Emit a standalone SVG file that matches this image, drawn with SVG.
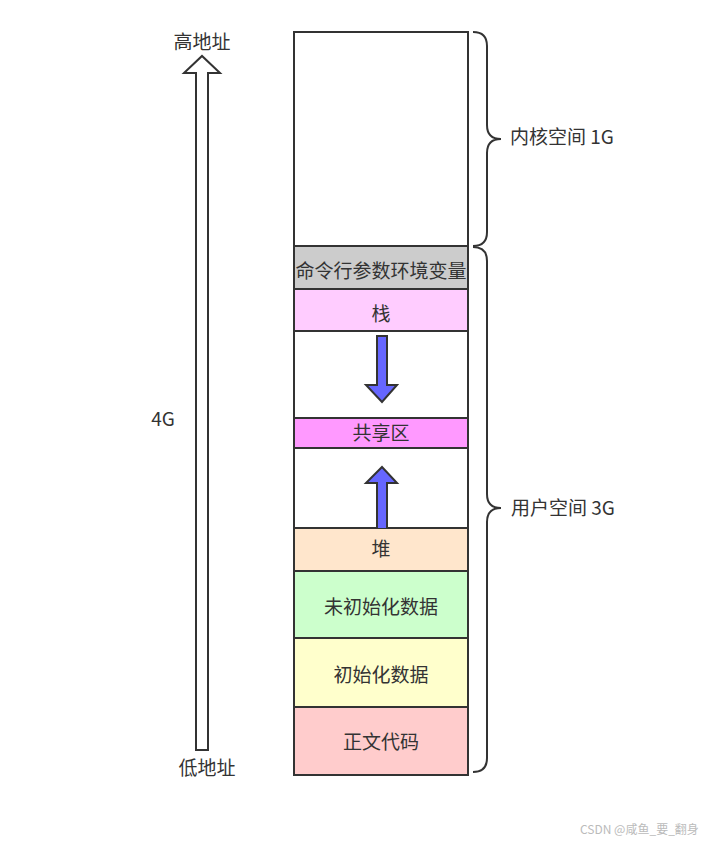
<svg xmlns="http://www.w3.org/2000/svg" width="717" height="842" viewBox="0 0 717 842">
<style>
.blk{stroke:#333;stroke-width:2}
.t{font-family:"Noto Sans CJK SC","Noto Sans",sans-serif;font-size:19px;fill:#333;text-anchor:middle}
.l{font-family:"Noto Sans CJK SC","Noto Sans",sans-serif;font-size:19px;fill:#333}
.br{fill:none;stroke:#333;stroke-width:2}
.arr{fill:#6666ff;stroke:#333;stroke-width:2;stroke-linejoin:miter}
</style>
<rect width="717" height="842" fill="#fff"/>
<g id="kernel"><rect class="blk" x="294" y="32" width="174" height="214" fill="#fff"/></g>
<g id="env"><rect class="blk" x="294" y="246" width="174" height="43" fill="#cccccc"/><text class="t" x="381" y="278">命令行参数环境变量</text></g>
<g id="stack"><rect class="blk" x="294" y="289" width="174" height="42" fill="#ffccff"/><text class="t" x="381" y="321">栈</text></g>
<g id="gap1"><rect class="blk" x="294" y="331" width="174" height="87" fill="#fff"/></g>
<g id="shared"><rect class="blk" x="294" y="418" width="174" height="30" fill="#ff99ff"/><text class="t" x="381" y="440">共享区</text></g>
<g id="gap2"><rect class="blk" x="294" y="448" width="174" height="80" fill="#fff"/></g>
<g id="heap"><rect class="blk" x="294" y="528" width="174" height="43" fill="#ffe6cc"/><text class="t" x="381" y="556">堆</text></g>
<g id="bss"><rect class="blk" x="294" y="571" width="174" height="67" fill="#ccffcc"/><text class="t" x="381" y="614">未初始化数据</text></g>
<g id="data"><rect class="blk" x="294" y="638" width="174" height="69" fill="#ffffcc"/><text class="t" x="381" y="682">初始化数据</text></g>
<g id="text"><rect class="blk" x="294" y="707" width="174" height="68" fill="#ffcccc"/><text class="t" x="381" y="749">正文代码</text></g>
<g id="connectors">
<path class="arr" d="M377,336 H387 V385 H397 L382,402 L366,385 H377 Z"/>
<path class="arr" d="M377,528 V483 H366 L382,467 L397,483 H387 V528"/>
<path d="M196,750 V73 H184 L202,56 L220,73 H208 V750 Z" fill="#fff" stroke="#333" stroke-width="2"/>
<path class="br" d="M473,32 Q487,32 487,46 V125 Q487,139 501,139 Q487,139 487,153 V232 Q487,246 473,246"/>
<path class="br" d="M473,247 Q487,247 487,261 V494 Q487,508 501,508 Q487,508 487,522 V758 Q487,772 473,772"/>
</g>
<g id="labels">
<text class="t" x="202" y="49">高地址</text>
<text class="t" x="207" y="775">低地址</text>
<text class="t" x="163" y="426">4G</text>
<text class="l" x="510" y="144">内核空间 1G</text>
<text class="l" x="511" y="515">用户空间 3G</text>
<text x="580" y="834" font-family="'Noto Sans CJK SC','Noto Sans',sans-serif" font-size="12" fill="#bbb">CSDN @咸鱼_要_翻身</text>
</g>
</svg>
